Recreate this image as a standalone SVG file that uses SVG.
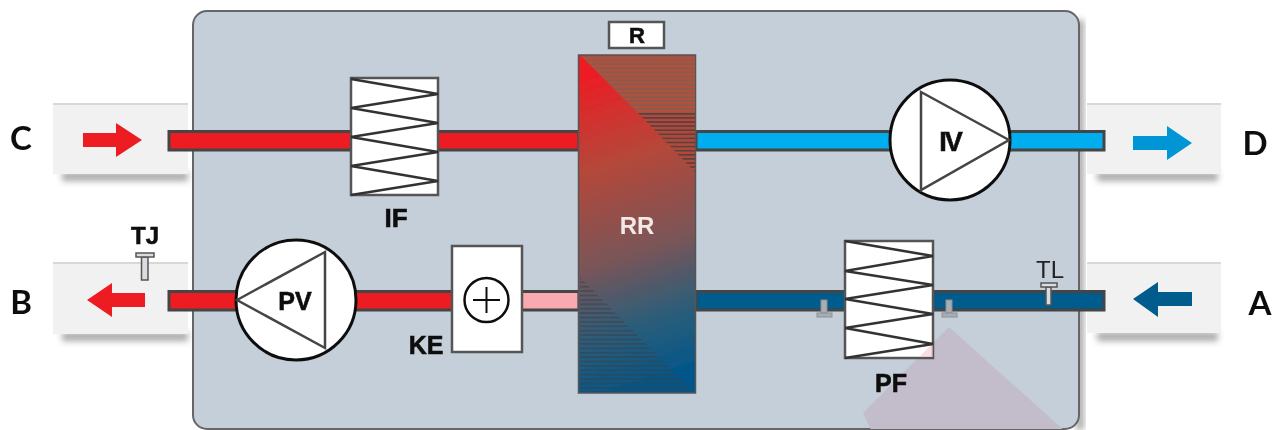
<svg xmlns="http://www.w3.org/2000/svg" width="1281" height="430" viewBox="0 0 1281 430">
<style>
.t{fill:#111}
.lg{font-size:33px;font-weight:700;text-anchor:middle;font-family:"Lato","Liberation Sans",sans-serif}
.b{font-size:25px;font-weight:700;text-anchor:middle;font-family:"Liberation Sans",sans-serif;stroke:#111;stroke-width:.6}
.box{fill:#fff;stroke:#555;stroke-width:2.5}
.coil{fill:none;stroke:#333;stroke-width:2.5}
.side{fill:#f1f1f1}
.sidetop{stroke:#d8d8d8;stroke-width:2}
.shade{fill:#555;opacity:.5;filter:url(#sh)}
.duct{stroke:#444;stroke-width:3}
.fan{fill:#fff;stroke:#111;stroke-width:3}
.tri{fill:none;stroke:#444;stroke-width:2.5}
.sens{fill:#d9dde0;stroke:#555;stroke-width:1.5}
.sens2{fill:#a9aeb3;stroke:#8b9095;stroke-width:1}
</style>
<defs>
<filter id="sh" x="-20%" y="-100%" width="140%" height="300%"><feGaussianBlur stdDeviation="3"/></filter>
<filter id="soft" x="0" y="0" width="1281" height="430" filterUnits="userSpaceOnUse"><feGaussianBlur stdDeviation="0.6"/></filter>
<linearGradient id="rr" gradientUnits="userSpaceOnUse" x1="590" y1="62" x2="690" y2="372">
<stop offset="0.03" stop-color="#ed1c24"/><stop offset="0.32" stop-color="#b4483a"/><stop offset="0.6" stop-color="#7a5558"/><stop offset="0.8" stop-color="#2f5d78"/><stop offset="1" stop-color="#00578a"/>
</linearGradient>
<pattern id="h1" patternUnits="userSpaceOnUse" width="10" height="4.1" y="57"><rect width="10" height="4.1" fill="#8b5a4e"/><rect width="10" height="2" fill="#b5503a"/></pattern>
<pattern id="h2" patternUnits="userSpaceOnUse" width="10" height="4.1" y="113"><rect width="10" height="4.1" fill="#b04a3a"/><rect width="10" height="1.6" fill="#5a3f3c"/></pattern>
<pattern id="h3" patternUnits="userSpaceOnUse" width="10" height="4.4" y="277"><rect width="10" height="1.8" fill="#3a3f48" fill-opacity=".55"/></pattern>
<clipPath id="case"><rect x="193" y="11" width="886" height="418" rx="14"/></clipPath>
</defs>
<rect width="1281" height="430" fill="#fff"/>
<g filter="url(#soft)">
<g id="shadows">
<rect class="shade" x="62" y="172" width="126" height="9"/>
<rect class="shade" x="62" y="332" width="126" height="9"/>
<rect class="shade" x="1097" y="172" width="121" height="9"/>
<rect class="shade" x="1097" y="332" width="121" height="9"/>
<rect x="1076" y="20" width="8" height="410" fill="#555" opacity=".5" filter="url(#sh)"/>
</g>
<g id="port-c"><rect class="side" x="53" y="104" width="135" height="70"/><line class="sidetop" x1="53" y1="104" x2="188" y2="104"/><path d="M83 133H116V123L142 140L116 157V147H83Z" fill="#ed1c24"/><text class="t lg" x="21" y="150">C</text></g>
<g id="port-b"><rect class="side" x="53" y="263" width="135" height="71"/><line class="sidetop" x1="53" y1="263" x2="188" y2="263"/><path d="M145 293H112V283L87 300L112 317V307H145Z" fill="#ed1c24"/><text class="t lg" x="21" y="314">B</text></g>
<g id="port-d"><rect class="side" x="1087" y="104" width="134" height="70"/><line class="sidetop" x1="1087" y1="104" x2="1221" y2="104"/><path d="M1133 136H1167V126L1192 143L1167 160V150H1133Z" fill="#0096d6"/><text class="t lg" x="1255" y="155">D</text></g>
<g id="port-a"><rect class="side" x="1087" y="263" width="134" height="70"/><line class="sidetop" x1="1087" y1="263" x2="1221" y2="263"/><path d="M1192 292H1158V282L1133 299L1158 317V306H1192Z" fill="#005b8c"/><text class="t lg" x="1260" y="315">A</text></g>
<g id="casing"><rect x="193" y="11" width="886" height="418" rx="14" fill="#c5cfda" stroke="#666" stroke-width="2"/>
<polygon points="949,327 863,413 872,432 1066,432" fill="#c3bccb" clip-path="url(#case)"/></g>
<g id="connectors">
<rect class="duct" x="169" y="131.500" width="410" height="18.500" fill="#ed1c24"/>
<rect class="duct" x="696" y="131.500" width="408" height="18.500" fill="#00aeef"/>
<rect class="duct" x="169" y="291.500" width="284" height="18.500" fill="#ed1c24"/>
<rect class="duct" x="521" y="291.500" width="58" height="18.500" fill="#f9a9b0" stroke="#777"/>
<rect class="duct" x="696" y="291.500" width="408" height="18.500" fill="#005b8c"/>
</g>
<g id="IF"><rect class="box" x="351" y="78" width="87" height="117"/><polyline class="coil" points="351,79 438,94 351,108 438,123 351,137 438,152 351,166 438,181 351,195"/><text class="t b" x="396" y="227" style="font-size:26px">IF</text></g>
<g id="R"><rect class="box" x="609" y="22" width="55" height="26"/><text class="t b" x="637" y="43" style="font-size:22px">R</text></g>
<g id="RR"><rect x="578.500" y="55" width="117" height="338" fill="url(#rr)" stroke="#555" stroke-width="1.500"/>
<polygon points="581,56 695,56 695,113 638,113" fill="url(#h1)"/>
<polygon points="638,113 695,113 695,172" fill="url(#h2)"/>
<polygon points="580,277 580,392 693,392" fill="url(#h3)"/>
<text x="637" y="234" text-anchor="middle" style="font-family:'Liberation Sans',sans-serif;font-size:24px;font-weight:700;fill:#f1e9e6">RR</text></g>
<g id="KE"><rect class="box" x="452" y="246" width="70" height="106" stroke="#777"/><circle cx="486.500" cy="300" r="22" fill="none" stroke="#111" stroke-width="2.500"/><path d="M473 300H500M486.500 287V313" fill="none" stroke="#111" stroke-width="2"/><text class="t b" x="426" y="354">KE</text></g>
<g id="PF"><rect class="box" x="845" y="241" width="88" height="117"/><polygon points="933,343 933,357 919,357" fill="#f4c7cd" opacity=".6"/><polyline class="coil" points="845,241 933,256 845,271 933,285 845,299 933,314 845,328 933,344 845,358"/><text class="t b" x="891" y="392">PF</text></g>
<g id="PV"><circle class="fan" cx="296" cy="300" r="60"/><polygon class="tri" points="237,300 325,252 325,348"/><text class="t b" x="295" y="310">PV</text></g>
<g id="IV"><circle class="fan" cx="950" cy="140" r="60"/><polygon class="tri" points="1009,140 921,92 921,190"/><text class="t b" x="950" y="151" style="font-size:27px;letter-spacing:-2px">IV</text></g>
<g id="TJ"><path class="sens" d="M141.500 257H148V280H141.500Z"/><rect class="sens" x="136" y="253" width="18" height="4"/><text class="t b" x="145" y="244" style="font-size:24px">TJ</text></g>
<g id="TL"><path class="sens" d="M1046 287H1051V305H1046Z"/><rect class="sens" x="1041" y="283" width="16" height="4"/><text x="1050" y="278" text-anchor="middle" style="font-family:'Liberation Sans',sans-serif;font-size:24px;fill:#222">TL</text></g>
<g id="sensor-1"><rect class="sens2" x="821" y="300" width="6" height="13"/><rect class="sens2" x="817" y="313" width="15" height="4"/></g>
<g id="sensor-2"><rect class="sens2" x="946" y="300" width="6" height="13"/><rect class="sens2" x="942" y="313" width="15" height="4"/></g>
</g>
</svg>
